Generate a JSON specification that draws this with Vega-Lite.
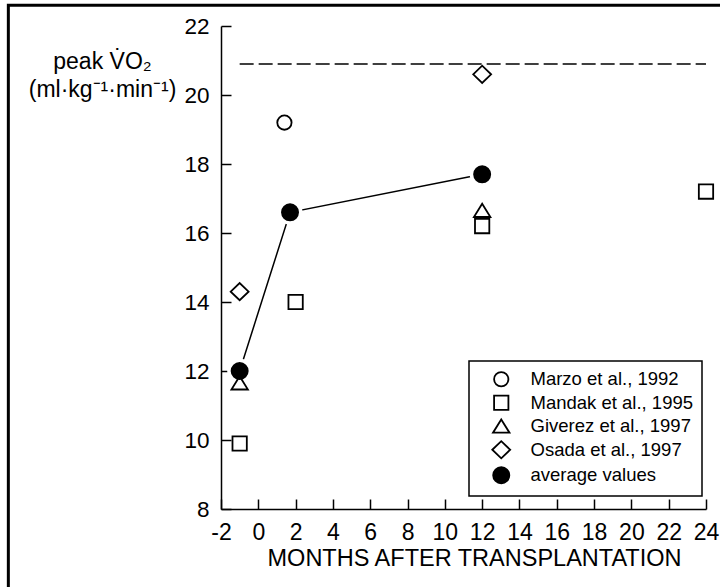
{
  "$schema": "https://vega.github.io/schema/vega-lite/v6.json",
  "width": 485,
  "height": 483,
  "autosize": {"type": "none"},
  "padding": {"left": 221, "top": 26, "right": 14, "bottom": 78},
  "background": "white",
  "datasets": {
    "studies": [
      {"month": 1.4, "vo2": 19.2, "series": "Marzo et al., 1992"},
      {"month": -1, "vo2": 9.9, "series": "Mandak et al., 1995"},
      {"month": 2, "vo2": 14.0, "series": "Mandak et al., 1995"},
      {"month": 12, "vo2": 16.2, "series": "Mandak et al., 1995"},
      {"month": 24, "vo2": 17.2, "series": "Mandak et al., 1995"},
      {"month": -1, "vo2": 11.65, "series": "Giverez et al., 1997"},
      {"month": 12, "vo2": 16.65, "series": "Giverez et al., 1997"},
      {"month": -1, "vo2": 14.3, "series": "Osada et al., 1997"},
      {"month": 12, "vo2": 20.6, "series": "Osada et al., 1997"},
      {"month": -1, "vo2": 12.0, "series": "average values"},
      {"month": 1.7, "vo2": 16.6, "series": "average values"},
      {"month": 12, "vo2": 17.7, "series": "average values"}
    ],
    "reference": [{"month_start": -1, "month_end": 24, "vo2": 20.9}]
  },
  "resolve": {"axis": {"x": "independent", "y": "independent"}},
  "layer": [
    {
      "description": "outer frame of the figure",
      "data": {"values": [{}]},
      "mark": {"type": "rect", "filled": false, "fill": null, "stroke": "black", "strokeWidth": 3, "clip": false},
      "encoding": {
        "x": {"datum": -13.4, "type": "quantitative", "axis": null},
        "x2": {"datum": 40},
        "y": {"datum": 22.6, "type": "quantitative", "axis": null},
        "y2": {"datum": -5}
      }
    },
    {
      "description": "dashed reference level; its axes are mirrored onto the plot edges to draw inward-pointing ticks",
      "data": {"name": "reference"},
      "mark": {"type": "rule", "stroke": "black", "strokeWidth": 1.5, "strokeDash": [14, 5]},
      "encoding": {
        "x": {
          "field": "month_start", "type": "quantitative",
          "axis": {
            "orient": "top", "offset": -483, "domain": false, "labels": false,
            "ticks": true, "tickSize": 10, "title": null,
            "values": [-2, 0, 2, 4, 6, 8, 10, 12, 14, 16, 18, 20, 22, 24]
          }
        },
        "x2": {"field": "month_end"},
        "y": {
          "field": "vo2", "type": "quantitative",
          "axis": {
            "orient": "right", "offset": -485, "domain": false, "labels": false,
            "ticks": true, "tickSize": 10, "title": null,
            "values": [8, 10, 12, 14, 16, 18, 20, 22]
          }
        }
      }
    },
    {
      "data": {"name": "studies"},
      "transform": [{"filter": "datum.series === 'average values'"}],
      "mark": {"type": "line", "stroke": "black", "strokeWidth": 1.5},
      "encoding": {
        "x": {"field": "month", "type": "quantitative", "axis": null},
        "y": {"field": "vo2", "type": "quantitative", "axis": null}
      }
    },
    {
      "description": "white halo that keeps the connecting line off the average markers",
      "data": {"name": "studies"},
      "transform": [{"filter": "datum.series === 'average values'"}],
      "mark": {"type": "point", "shape": "circle", "filled": true, "fill": "white", "opacity": 1, "size": 620},
      "encoding": {
        "x": {"field": "month", "type": "quantitative", "axis": null},
        "y": {"field": "vo2", "type": "quantitative", "axis": null}
      }
    },
    {
      "data": {"name": "studies"},
      "mark": {"type": "point", "filled": true, "stroke": "black", "strokeWidth": 1.8, "opacity": 1, "size": 205},
      "encoding": {
        "x": {
          "field": "month", "type": "quantitative",
          "scale": {"domain": [-2, 24], "nice": false, "zero": false},
          "axis": {
            "orient": "bottom",
            "ticks": false,
            "labelFlush": false,
            "labelOverlap": false,
            "labelExpr": "'' + datum.value",
            "labelPadding": 12,
            "labelFontSize": 23,
            "values": [-2, 0, 2, 4, 6, 8, 10, 12, 14, 16, 18, 20, 22, 24],
            "title": "MONTHS AFTER TRANSPLANTATION",
            "titlePadding": 2,
            "titleX": 253
          }
        },
        "y": {
          "field": "vo2", "type": "quantitative",
          "scale": {"domain": [8, 22], "nice": false, "zero": false},
          "axis": {
            "orient": "left",
            "ticks": false,
            "labelFlush": false,
            "labelOverlap": false,
            "labelPadding": 12,
            "values": [8, 10, 12, 14, 16, 18, 20, 22],
            "title": ["peak V̇O₂", "(ml·kg⁻¹·min⁻¹)"],
            "titleAngle": 0,
            "titleAlign": "center",
            "titleBaseline": "alphabetic",
            "titleX": -119,
            "titleY": 42,
            "titleFontSize": 23,
            "titleLineHeight": 28
          }
        },
        "shape": {
          "field": "series", "type": "nominal",
          "scale": {
            "domain": ["Marzo et al., 1992", "Mandak et al., 1995", "Giverez et al., 1997", "Osada et al., 1997", "average values"],
            "range": [
              "circle",
              "square",
              "M0,-0.95L1.15,0.9L-1.15,0.9Z",
              "M-1.25,0L0,-1.2L1.25,0L0,1.2Z",
              "M-1.13,0A1.13,1.13,0,1,1,1.13,0A1.13,1.13,0,1,1,-1.13,0Z"
            ]
          },
          "legend": {"title": null}
        },
        "color": {
          "field": "series", "type": "nominal",
          "scale": {
            "domain": ["Marzo et al., 1992", "Mandak et al., 1995", "Giverez et al., 1997", "Osada et al., 1997", "average values"],
            "range": ["white", "white", "white", "white", "black"]
          },
          "legend": {"title": null}
        }
      }
    }
  ],
  "config": {
    "font": "Liberation Sans",
    "view": {"stroke": null},
    "axis": {
      "grid": false,
      "domainColor": "black",
      "domainWidth": 1.5,
      "tickColor": "black",
      "tickWidth": 1.5,
      "labelColor": "black",
      "labelFontSize": 22.5,
      "titleColor": "black",
      "titleFontWeight": "normal",
      "titleFontSize": 23.5
    },
    "legend": {
      "orient": "none",
      "legendX": 248,
      "legendY": 335,
      "strokeColor": "black",
      "strokeWidth": 1.5,
      "fillColor": "white",
      "padding": 9,
      "rowPadding": 0.5,
      "labelFontSize": 18.5,
      "labelLimit": 400,
      "labelColor": "black",
      "symbolOffset": 14,
      "labelOffset": 20,
      "symbolSize": 205,
      "symbolStrokeWidth": 1.8
    }
  }
}
